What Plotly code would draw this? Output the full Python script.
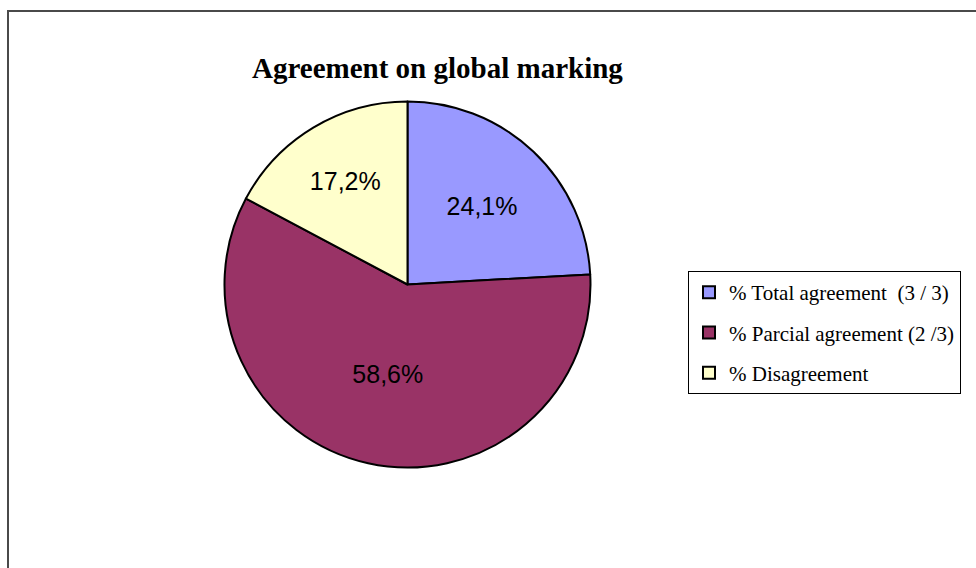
import plotly.graph_objects as go

# Agreement categories and their share of cases (%)
categories = ["% Total agreement  (3 / 3)", "% Parcial agreement (2 /3)", "% Disagreement"]
shares = [24.1, 58.6, 17.2]
colors = ["#9999FF", "#993366", "#FFFFCC"]

W, H = 976, 568

def fmt(v):
    return f"{v:.1f}".replace(".", ",") + "%"

fig = go.Figure()

# pie centre and radius in pixels
cx, cy, r = 407.5, 284.5, 183

fig.add_trace(go.Pie(
    labels=categories,
    values=shares,
    text=[fmt(v) for v in shares],
    textinfo="text",
    textposition="inside",
    insidetextorientation="horizontal",
    textfont=dict(family="Liberation Sans, Arial, sans-serif", size=25, color="black"),
    marker=dict(colors=colors, line=dict(color="black", width=2)),
    sort=False,
    direction="clockwise",
    rotation=0,
    showlegend=False,
    hoverinfo="label+text",
    domain=dict(x=[(cx - r) / W, (cx + r) / W], y=[1 - (cy + r) / H, 1 - (cy - r) / H]),
))

# legend entries, one group each so the entries are spaced apart
for i, (name, col) in enumerate(zip(categories, colors)):
    fig.add_trace(go.Scatter(
        x=[None], y=[None], mode="markers", name=name,
        legendgroup=f"g{i}",
        marker=dict(symbol="square", size=10, color=col, line=dict(color="black", width=2)),
    ))

fig.update_layout(
    width=W, height=H,
    margin=dict(l=0, r=0, t=0, b=0),
    paper_bgcolor="white", plot_bgcolor="white",
    xaxis=dict(visible=False), yaxis=dict(visible=False),
    showlegend=True,
    legend=dict(
        x=688 / W, y=1 - 271 / H, xanchor="left", yanchor="top",
        bgcolor="white", bordercolor="black", borderwidth=1,
        font=dict(family="Liberation Serif, Times New Roman, serif", size=21, color="black"),
        tracegroupgap=10, itemsizing="constant",
    ),
    annotations=[dict(
        text="<b>Agreement on global marking</b>",
        x=437 / W, y=1 - 68 / H, xref="paper", yref="paper",
        xanchor="center", yanchor="middle", showarrow=False,
        font=dict(family="Liberation Serif, Times New Roman, serif", size=29, color="black"),
    )],
    shapes=[dict(
        type="rect", xref="paper", yref="paper",
        x0=8 / W, y0=-0.05, x1=1.05, y1=1 - 11 / H,
        line=dict(color="#4a4a4a", width=2), layer="below",
    )],
)

fig.write_html("out.html")
